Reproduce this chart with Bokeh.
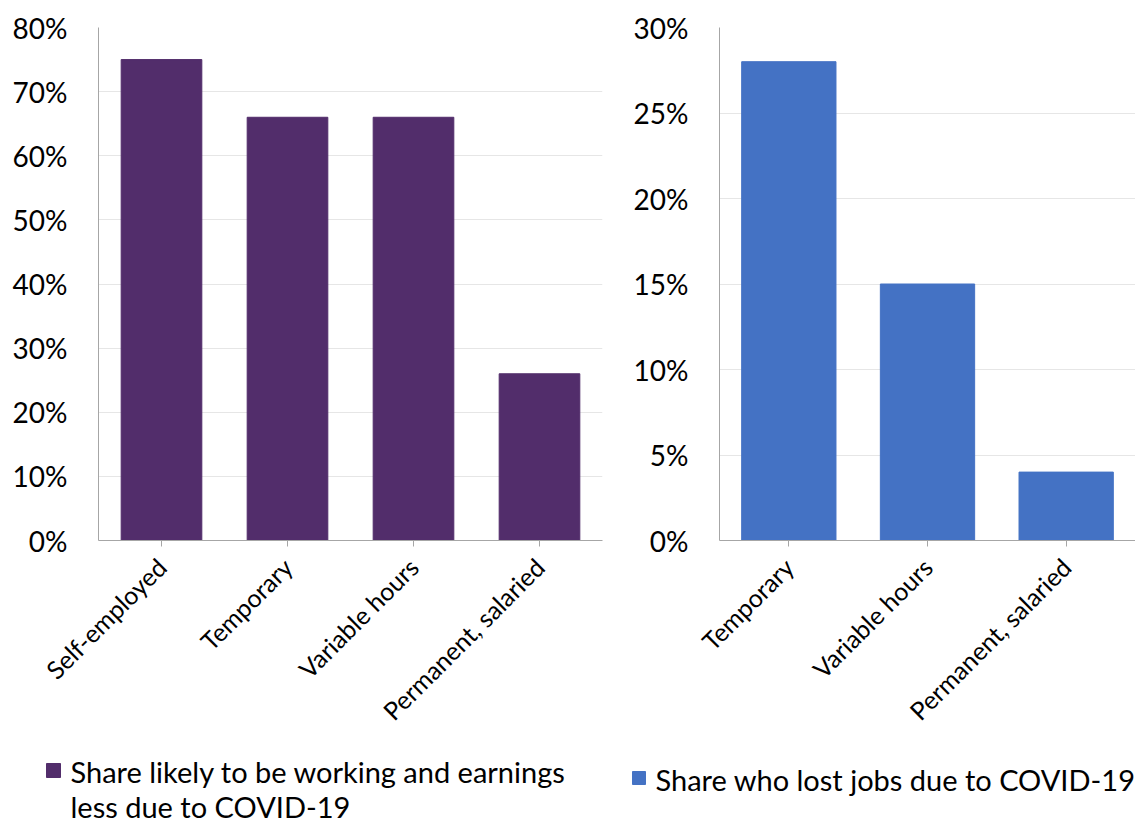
from bokeh.plotting import figure
from bokeh.layouts import row, column
from bokeh.models import NumeralTickFormatter, FixedTicker, Range1d
from bokeh.core.properties import value
from bokeh.embed import file_html
from bokeh.resources import INLINE
import math

# ---- data ----
cats_left = ["Self-employed", "Temporary", "Variable hours", "Permanent, salaried"]
vals_left = [0.75, 0.66, 0.66, 0.26]
cats_right = ["Temporary", "Variable hours", "Permanent, salaried"]
vals_right = [0.28, 0.15, 0.04]
ticks_left = [0, 0.1, 0.2, 0.3, 0.4, 0.5, 0.6, 0.7, 0.8]
ticks_right = [0, 0.05, 0.10, 0.15, 0.20, 0.25, 0.30]
legend_left = ["Share likely to be working and earnings", "less due to COVID-19"]
legend_right = "Share who lost jobs due to COVID-19"

PURPLE = "#522d6b"
BLUE = "#4472c4"
FONT = "Lato"
GRID = "#e6e6e6"
AXIS = "#a6a6a6"


def make(cats, vals, ymax, ticks, color, bar_w, width, height, bl, br, bt, bb):
    p = figure(x_range=cats, y_range=(0, ymax), width=width, height=height,
               output_backend="svg", toolbar_location=None,
               min_border_left=bl, min_border_right=br, min_border_top=bt,
               min_border_bottom=bb)
    p.vbar(x=cats, top=vals, width=bar_w, color=color)
    p.outline_line_color = None
    p.xgrid.grid_line_color = None
    p.ygrid.grid_line_color = GRID
    p.ygrid.grid_line_width = 1
    p.yaxis.ticker = FixedTicker(ticks=ticks)
    p.yaxis.formatter = NumeralTickFormatter(format="0%")
    p.yaxis.major_tick_line_color = None
    p.yaxis.minor_tick_line_color = None
    p.yaxis.axis_line_color = AXIS
    p.yaxis.major_label_text_font = FONT
    p.yaxis.major_label_text_font_size = "28px"
    p.yaxis.major_label_text_color = "#000000"
    p.yaxis.major_label_standoff = 25
    p.xaxis.axis_line_color = AXIS
    p.xaxis.major_tick_line_color = AXIS
    p.xaxis.major_tick_out = 6
    p.xaxis.major_tick_in = 0
    p.xaxis.major_label_orientation = math.pi / 4
    p.xaxis.major_label_text_font = FONT
    p.xaxis.major_label_text_font_size = "25px"
    p.xaxis.major_label_text_color = "#000000"
    p.xaxis.major_label_standoff = 16
    p.x_range.range_padding = 0
    return p


p1 = make(cats_left, vals_left, 0.8, ticks_left, PURPLE, 0.64, 610, 740, 98, 8, 27, 200)
p2 = make(cats_right, vals_right, 0.30, ticks_right, BLUE, 0.68, 525, 740, 109, 0, 27, 200)

# legend strip (drawn in its own figure, coordinates = page pixels)
leg = figure(width=1135, height=83, output_backend="svg", toolbar_location=None,
             x_range=Range1d(0, 1135), y_range=Range1d(823, 740),
             min_border=0)
leg.axis.visible = False
leg.grid.visible = False
leg.outline_line_color = None
leg.quad(left=[46], right=[60], top=[763], bottom=[777], color=PURPLE)
leg.text(x=[70, 70], y=[771, 806], text=legend_left, text_font=value(FONT),
         text_font_size="29px", text_baseline="middle", text_color="#000000")
leg.quad(left=[632], right=[645], top=[771], bottom=[784], color=BLUE)
leg.text(x=[655], y=[779], text=[legend_right], text_font=value(FONT),
         text_font_size="29px", text_baseline="middle", text_color="#000000")

layout = column(row(p1, p2, spacing=0), leg, spacing=0)
open("out.html", "w").write(file_html(layout, INLINE))
